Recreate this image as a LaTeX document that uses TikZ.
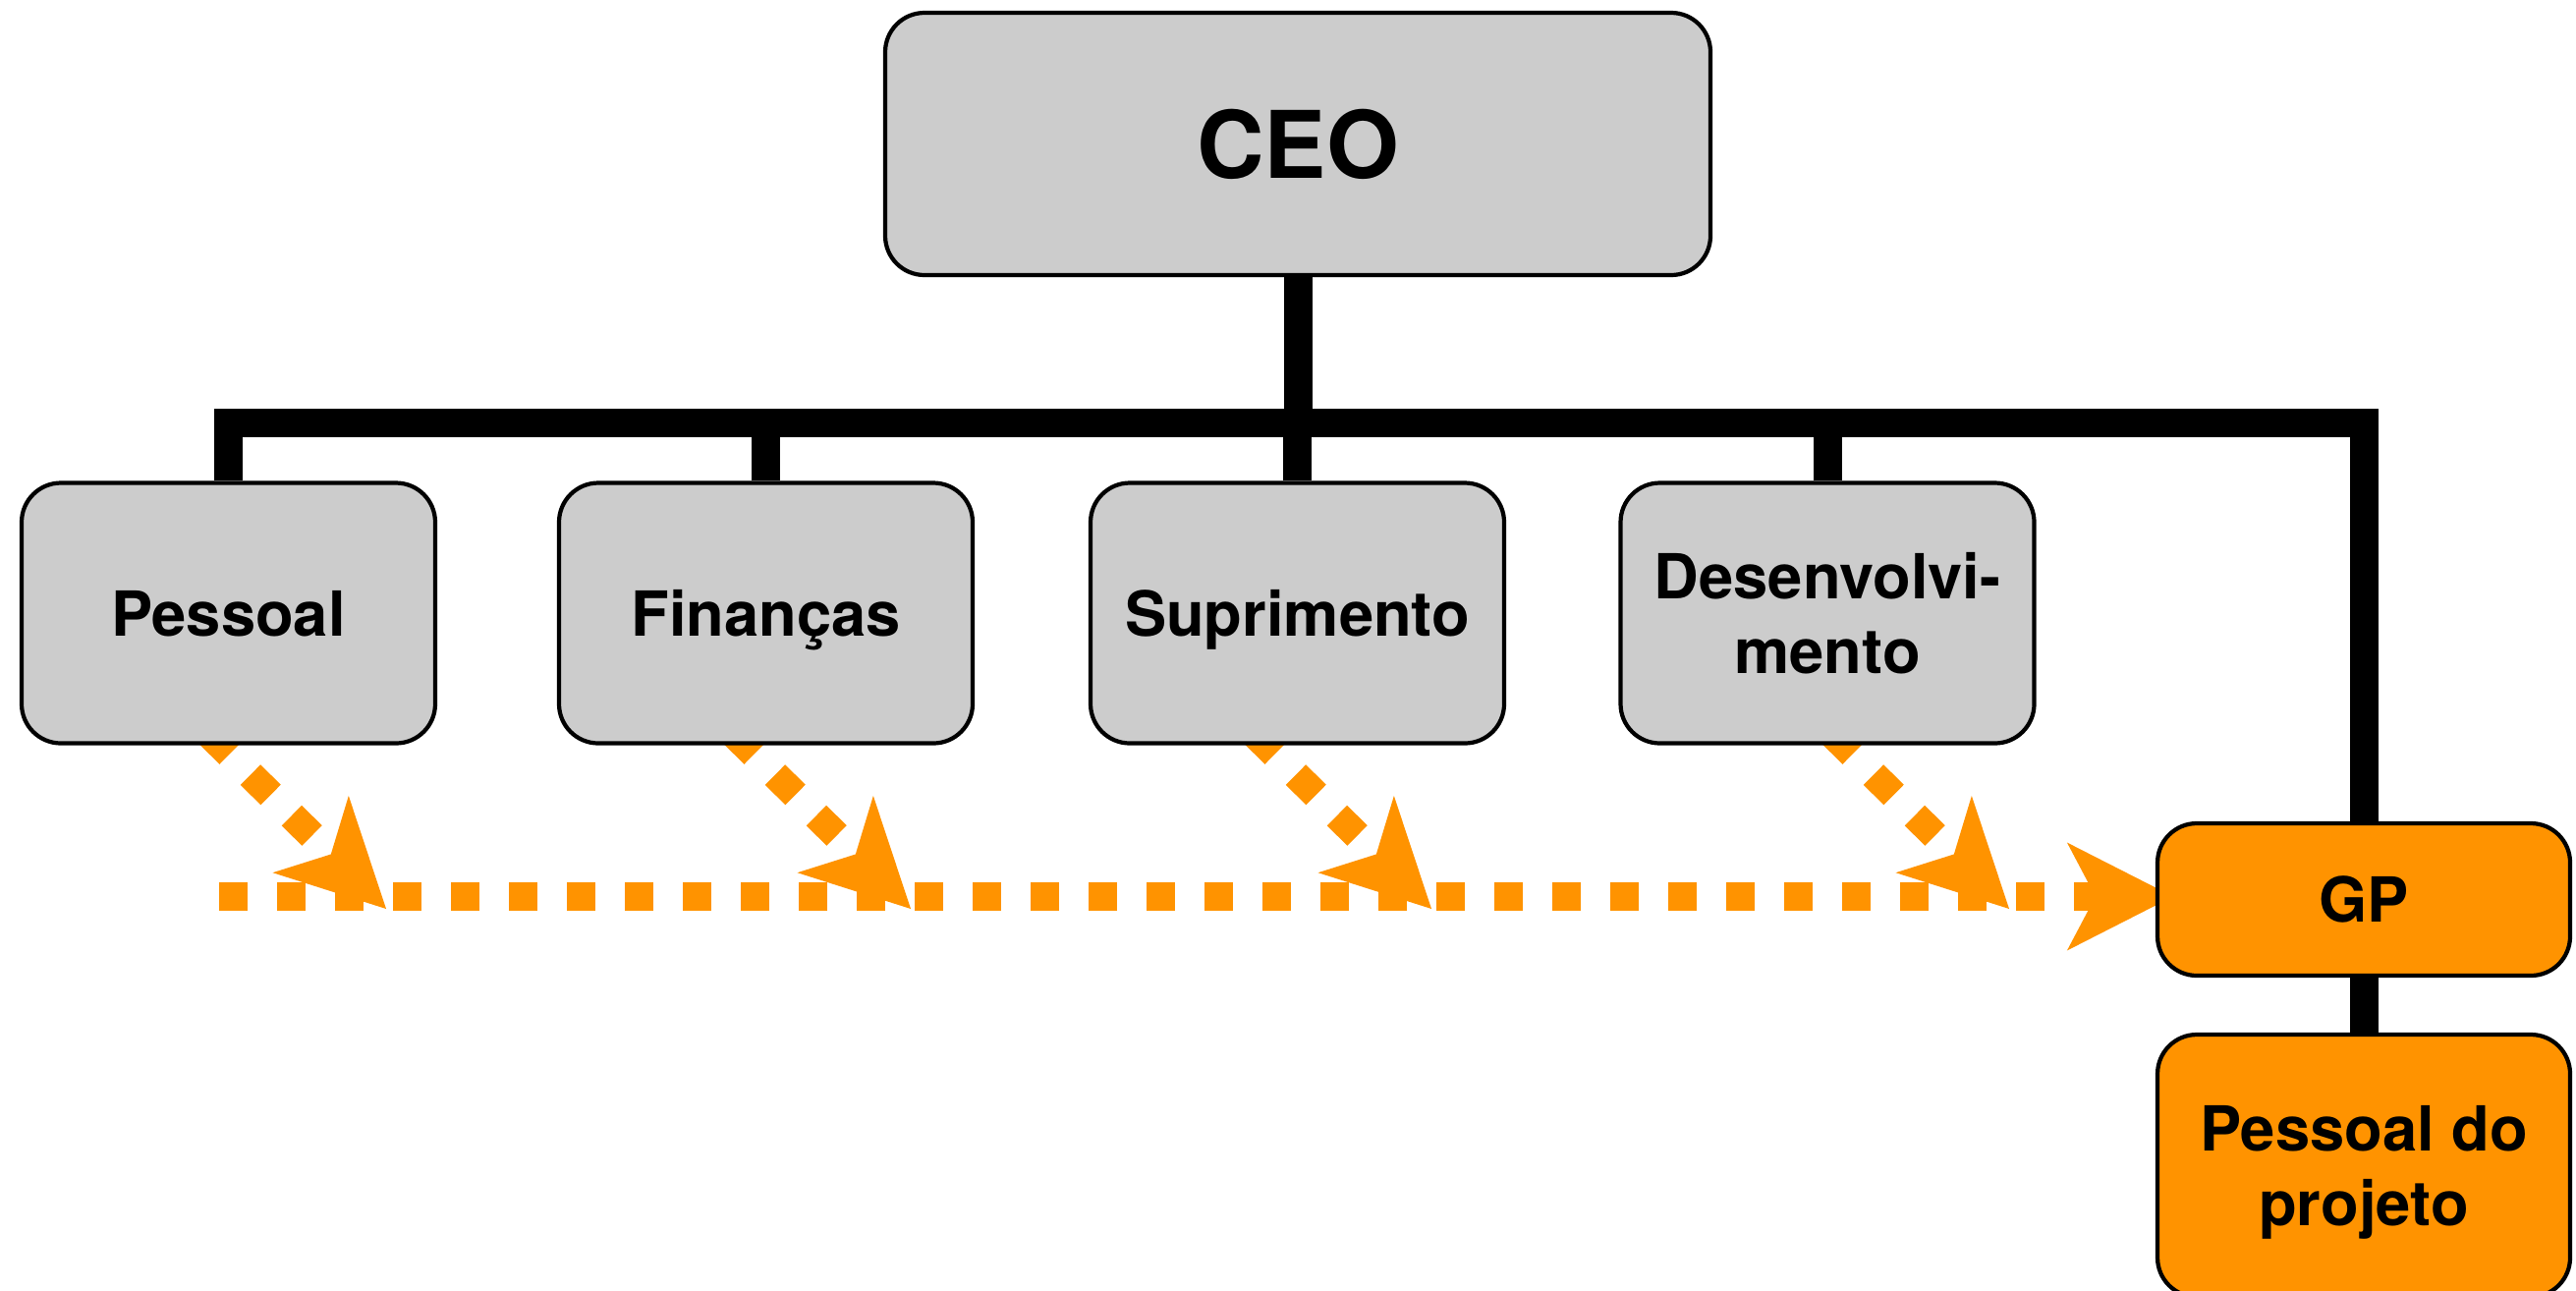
\documentclass[tikz,border=0pt]{standalone}
\usepackage{fontspec}
\setmainfont{TeX Gyre Heros}
\usepackage{tikz}
\usetikzlibrary{arrows.meta}
\usetikzlibrary{calc}
\usetikzlibrary{backgrounds}
\definecolor{boxgray}{HTML}{CCCCCC}
\definecolor{gporange}{HTML}{FF9300}
\tikzset{
  dept node/.style={draw,rounded corners=0.4cm,fill=boxgray,line width=1.2pt,inner sep=0pt,
    minimum width=4.21cm,minimum height=2.65cm,align=center,text depth=0pt,
    font=\bfseries\fontsize{18}{21.8}\selectfont},
  gp node/.style={dept node,fill=gporange,minimum width=4.2cm},
  ceo node/.style={dept node,minimum width=8.4cm,minimum height=2.67cm,
    font=\bfseries\fontsize{27}{32}\selectfont},
  org/.style={draw=black,line width=0.29cm},
  flow/.style={draw=gporange,line width=0.29cm,dash pattern=on 0.29cm off 0.3cm,
    -{Stealth[length=1.08cm,width=1.1cm,inset=0.29cm,line width=0pt]}}
}

\begin{document}
\begin{tikzpicture}
  \useasboundingbox (0,0) rectangle (26.22,-13.13);
  \node [ceo node] (ceo) at (13.21,-1.465) {CEO};
  \node [dept node] (pessoal) at (2.325,-6.24) {Pessoal};
  \node [dept node] (financas) at (7.795,-6.24) {Finanças};
  \node [dept node] (suprimento) at (13.205,-6.24) {Suprimento};
  \node [dept node] (desenv) at (18.60,-6.24) {Desenvolvi-\\mento};
  \node [gp node,minimum height=1.55cm] (gp) at (24.06,-9.155) {GP};
  \node [gp node,minimum height=2.67cm] (projeto) at (24.06,-11.865) {Pessoal do\\projeto};

  \coordinate (bus) at (0,-4.305);
  \coordinate (h0) at (2.23,-9.125);
  \coordinate (h1) at ($(h0 -| gp.west)+(0.18,0)$);
  \coordinate (t1) at (3.93,-9.25);
  \coordinate (t2) at (9.27,-9.25);
  \coordinate (t3) at (14.57,-9.25);
  \coordinate (t4) at (20.45,-9.25);

  \begin{scope}[on background layer]
    % hierarchy
    \draw[org] (pessoal.north) |- (bus -| gp.north) -- (gp.north);
    \foreach \n in {ceo.south,financas.north,suprimento.north,desenv.north}
      \draw[org] (\n) -- (\n |- bus);
    \draw[org] (gp.south) -- (projeto.north);
    % project flow
    \draw[flow] (h0) -- (h1);
    \foreach \d/\s/\t in {pessoal/-0.195/t1,financas/-0.325/t2,suprimento/-0.435/t3,desenv/0.05/t4}
      \draw[flow] ([shift={(\s,0.115)}]\d.south) -- (\t);
  \end{scope}
\end{tikzpicture}
\end{document}
